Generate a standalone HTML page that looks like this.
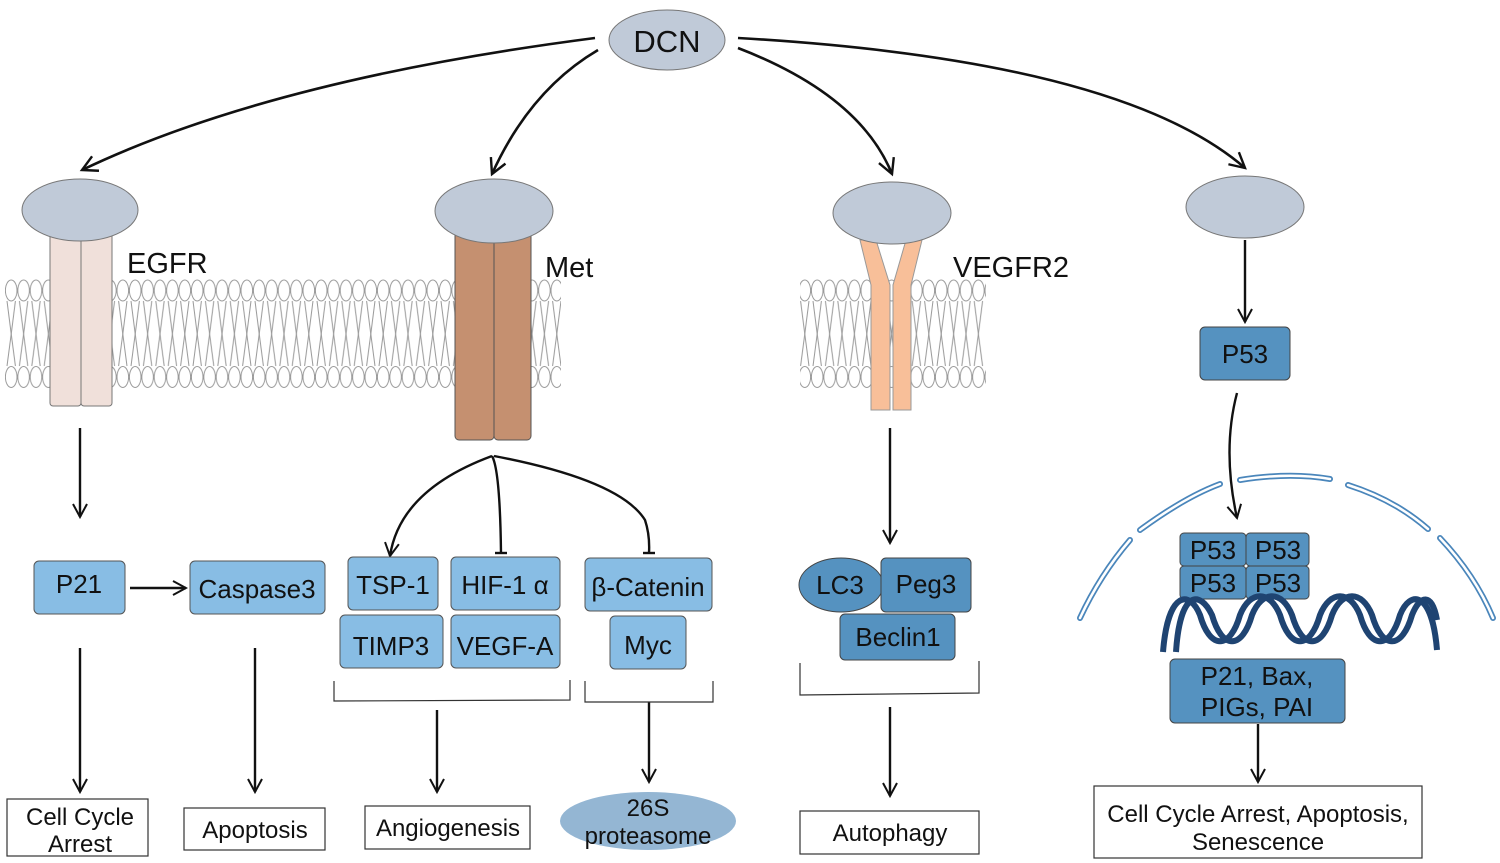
<!DOCTYPE html>
<html><head><meta charset="utf-8"><style>
html,body{margin:0;padding:0;background:#fff}
svg{display:block}
text{font-family:"Liberation Sans",sans-serif;fill:#111}
</style></head><body>
<svg width="1500" height="863" viewBox="0 0 1500 863" xmlns="http://www.w3.org/2000/svg">
<defs>
<pattern id="lip" x="5" y="278" width="12.4" height="112" patternUnits="userSpaceOnUse">
<g fill="#fff" stroke="#999" stroke-width="1">
<ellipse cx="6.2" cy="12.5" rx="5.8" ry="10.5"/>
<ellipse cx="6.2" cy="99" rx="5.8" ry="10.5"/>
<polyline fill="none" points="2,23 6.2,56 2,88"/>
<polyline fill="none" points="10.4,23 6.2,56 10.4,88"/>
</g>
</pattern>
<marker id="ar" viewBox="0 0 16 16" refX="14" refY="8" markerWidth="16" markerHeight="16" markerUnits="userSpaceOnUse" orient="auto">
<path d="M1,1 L14,8 L1,15" fill="none" stroke="#111" stroke-width="2"/>
</marker>
<marker id="ar2" viewBox="0 0 20 20" refX="17" refY="10" markerWidth="20" markerHeight="20" markerUnits="userSpaceOnUse" orient="auto">
<path d="M2,2 L17,10 L2,18" fill="none" stroke="#111" stroke-width="2.4"/>
</marker>
</defs>

<rect x="5" y="278" width="556" height="112" fill="url(#lip)"/>
<rect x="800" y="278" width="186" height="112" fill="url(#lip)"/>

<ellipse cx="667" cy="40" rx="58" ry="30" fill="#c0cad8" stroke="#777"/>
<text x="667" y="52" font-size="31" text-anchor="middle">DCN</text>

<g fill="none" stroke="#111" stroke-width="2.6" marker-end="url(#ar2)">
<path d="M595,38 Q270,80 82,170"/>
<path d="M598,50 Q530,90 492,174"/>
<path d="M738,48 Q860,95 892,174"/>
<path d="M738,38 Q1120,60 1245,168"/>
</g>

<rect x="50" y="230" width="31" height="176" rx="3" fill="#f0e0da" stroke="#777"/>
<rect x="81" y="230" width="31" height="176" rx="3" fill="#f0e0da" stroke="#777"/>
<ellipse cx="80" cy="210" rx="58" ry="31" fill="#c0cad8" stroke="#777"/>
<text x="127" y="273" font-size="29">EGFR</text>

<rect x="455" y="232" width="39" height="208" rx="4" fill="#c59070" stroke="#555"/>
<rect x="494" y="232" width="37" height="208" rx="4" fill="#c59070" stroke="#555"/>
<ellipse cx="494" cy="211" rx="59" ry="32" fill="#c0cad8" stroke="#777"/>
<text x="545" y="277" font-size="29">Met</text>

<polygon points="860,240 876,240 890,285 890,410 871,410 871,285" fill="#f8bf99" stroke="#999"/>
<polygon points="922,240 906,240 893,285 893,410 911,410 911,285" fill="#f8bf99" stroke="#999"/>
<ellipse cx="892" cy="213" rx="59" ry="31" fill="#c0cad8" stroke="#777"/>
<text x="953" y="277" font-size="29">VEGFR2</text>

<ellipse cx="1245" cy="207" rx="59" ry="31" fill="#c0cad8" stroke="#777"/>

<g stroke="#111" stroke-width="2.4" marker-end="url(#ar)" fill="none">
<line x1="80" y1="428" x2="80" y2="517"/>
<line x1="1245" y1="240" x2="1245" y2="322"/>
<line x1="890" y1="428" x2="890" y2="543"/>
<line x1="130" y1="588" x2="186" y2="588"/>
<line x1="80" y1="648" x2="80" y2="792"/>
<line x1="255" y1="648" x2="255" y2="792"/>
<line x1="437" y1="710" x2="437" y2="792"/>
<line x1="649" y1="702" x2="649" y2="782"/>
<line x1="890" y1="707" x2="890" y2="796"/>
<line x1="1258" y1="724" x2="1258" y2="782"/>
<path d="M1237,393 Q1222,450 1237,518"/>
<path d="M492,456 Q400,490 390,556"/>
</g>
<g stroke="#111" stroke-width="2.4" fill="none">
<path d="M492,456 Q500,470 501,553"/>
<line x1="495" y1="553" x2="507" y2="553"/>
<path d="M494,456 Q620,480 645,520 Q650,535 649,553"/>
<line x1="643" y1="553" x2="655" y2="553"/>
</g>

<g fill="#88bde4" stroke="#555" stroke-width="1">
<rect x="34" y="561" width="91" height="53" rx="5"/>
<rect x="190" y="561" width="135" height="53" rx="5"/>
<rect x="348" y="557" width="90" height="53" rx="5"/>
<rect x="451" y="557" width="109" height="53" rx="5"/>
<rect x="340" y="615" width="103" height="53" rx="5"/>
<rect x="451" y="615" width="109" height="53" rx="5"/>
<rect x="585" y="558" width="127" height="53" rx="5"/>
<rect x="610" y="616" width="76" height="53" rx="5"/>
</g>
<g font-size="26" text-anchor="middle">
<text x="79" y="593">P21</text>
<text x="257" y="598">Caspase3</text>
<text x="393" y="594">TSP-1</text>
<text x="505" y="594">HIF-1 α</text>
<text x="391" y="655">TIMP3</text>
<text x="505" y="655">VEGF-A</text>
<text x="648" y="596">β-Catenin</text>
<text x="648" y="654">Myc</text>
</g>

<g fill="#5592c0" stroke="#444" stroke-width="1">
<ellipse cx="841" cy="585" rx="42" ry="27"/>
<rect x="881" y="558" width="90" height="54" rx="5"/>
<rect x="840" y="614" width="115" height="46" rx="5"/>
<rect x="1200" y="327" width="90" height="53" rx="5"/>
<rect x="1180" y="533" width="66" height="33" rx="4"/>
<rect x="1246" y="533" width="63" height="33" rx="4"/>
<rect x="1180" y="566" width="66" height="33" rx="4"/>
<rect x="1246" y="566" width="63" height="33" rx="4"/>
<rect x="1170" y="659" width="175" height="64" rx="5"/>
</g>
<g font-size="26" text-anchor="middle">
<text x="840" y="594">LC3</text>
<text x="926" y="593">Peg3</text>
<text x="898" y="646">Beclin1</text>
<text x="1245" y="363">P53</text>
<text x="1213" y="559">P53</text>
<text x="1278" y="559">P53</text>
<text x="1213" y="592">P53</text>
<text x="1278" y="592">P53</text>
<text x="1257" y="685">P21, Bax,</text>
<text x="1257" y="716">PIGs, PAI</text>
</g>

<g fill="none" stroke="#4a86bb" stroke-width="6" stroke-linecap="round">
<path d="M1080,618 Q1100,575 1130,540"/>
<path d="M1140,530 Q1185,497 1220,484"/>
<path d="M1240,480 Q1290,472 1330,479"/>
<path d="M1348,485 Q1395,500 1428,529"/>
<path d="M1440,538 Q1475,575 1493,618"/>
</g>
<g fill="none" stroke="#fff" stroke-width="2.5" stroke-linecap="round">
<path d="M1080,618 Q1100,575 1130,540"/>
<path d="M1140,530 Q1185,497 1220,484"/>
<path d="M1240,480 Q1290,472 1330,479"/>
<path d="M1348,485 Q1395,500 1428,529"/>
<path d="M1440,538 Q1475,575 1493,618"/>
</g>

<g fill="none" stroke="#1f4472" stroke-width="6">
<path d="M1163,652 C1168,590 1190,590 1200,615 C1210,650 1230,650 1240,615 C1250,590 1270,590 1280,615 C1290,650 1310,650 1320,615 C1330,590 1350,590 1360,615 C1370,650 1390,650 1400,615 C1410,590 1432,590 1437,650"/>
<path d="M1176,652 C1180,590 1200,590 1212,615 C1222,650 1242,650 1252,615 C1262,590 1282,590 1292,615 C1302,650 1322,650 1332,615 C1342,590 1362,590 1372,615 C1382,650 1402,650 1412,615 C1420,595 1432,592 1437,620"/>
</g>

<g fill="none" stroke="#333" stroke-width="1.2">
<polyline points="334,681 334,701 570,700 570,680"/>
<polyline points="585,681 585,702 713,702 713,681"/>
<polyline points="800,663 800,695 979,693 979,661"/>
</g>

<g fill="#fff" stroke="#333" stroke-width="1.2">
<rect x="7" y="799" width="141" height="57"/>
<rect x="184" y="808" width="141" height="42"/>
<rect x="365" y="806" width="165" height="43"/>
<rect x="800" y="811" width="179" height="43"/>
<rect x="1094" y="786" width="328" height="72"/>
</g>
<ellipse cx="648" cy="821" rx="88" ry="29" fill="#94b6d3"/>
<g font-size="24" text-anchor="middle">
<text x="80" y="825">Cell Cycle</text>
<text x="80" y="852">Arrest</text>
<text x="255" y="838">Apoptosis</text>
<text x="448" y="836">Angiogenesis</text>
<text x="648" y="816">26S</text>
<text x="648" y="844">proteasome</text>
<text x="890" y="841">Autophagy</text>
<text x="1258" y="822">Cell Cycle Arrest, Apoptosis,</text>
<text x="1258" y="850">Senescence</text>
</g>
</svg>
</body></html>
